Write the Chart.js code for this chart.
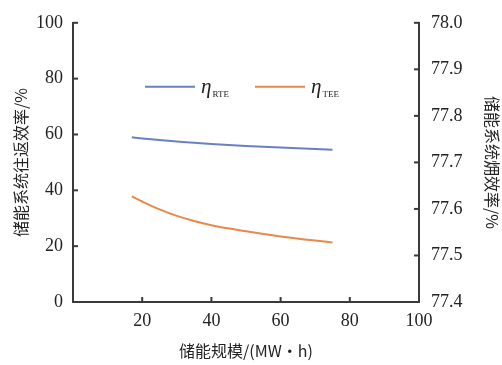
<!DOCTYPE html>
<html><head><meta charset="utf-8">
<script src="https://cdn.jsdelivr.net/npm/chart.js@4"></script>
<style>html,body{margin:0;padding:0;background:#fff}#wrap{width:502px;height:365px}
.probe{font-family:'Liberation Serif';position:absolute;left:-999px}</style>
</head><body><div id="wrap"><canvas id="c" width="502" height="365"></canvas></div>
<span class="probe">0123 η</span>
<script>
const scaleMW = [17, 20, 25, 30, 35, 40, 50, 60, 70, 75];
const etaRTE = [59.0, 58.6, 58.0, 57.5, 57.0, 56.6, 55.9, 55.3, 54.8, 54.5];
const etaTEE = [77.627, 77.616, 77.599, 77.585, 77.574, 77.565, 77.552, 77.541, 77.532, 77.528];
const xTicks = [0, 20, 40, 60, 80, 100];
const yLeftTicks = [0, 20, 40, 60, 80, 100];
const yRightTicks = [77.4, 77.5, 77.6, 77.7, 77.8, 77.9, 78.0];
const seriesNames = [['η', 'RTE'], ['η', 'TEE']];
const colors = ['#6a7fc6', '#e8894b'];

const serif = "'Liberation Serif', 'Times New Roman', serif";
const cjk = "'Noto Sans CJK SC', sans-serif";
const axisColor = '#3a3a3a';

const inwardTicks = {
  id: 'inwardTicks',
  afterDraw(chart) {
    const ctx = chart.ctx, a = chart.chartArea, L = 5;
    ctx.save();
    ctx.strokeStyle = axisColor; ctx.lineWidth = 2;
    const sx = chart.scales.x, sy = chart.scales.y, sy1 = chart.scales.y1;
    xTicks.forEach(v => { const p = sx.getPixelForValue(v); if (v===0||v===100) return; ctx.beginPath(); ctx.moveTo(p, a.bottom); ctx.lineTo(p, a.bottom - L); ctx.stroke(); });
    yLeftTicks.forEach(v => { const p = sy.getPixelForValue(v); if (v===0) return; ctx.beginPath(); ctx.moveTo(a.left, p); ctx.lineTo(a.left + L, p); ctx.stroke(); });
    yRightTicks.forEach(v => { const p = sy1.getPixelForValue(v); if (v===77.4) return; ctx.beginPath(); ctx.moveTo(a.right, p); ctx.lineTo(a.right - L, p); ctx.stroke(); });
    ctx.restore();
  }
};

const customLegend = {
  id: 'customLegend',
  afterDraw(chart) {
    const ctx = chart.ctx, a = chart.chartArea;
    const y = a.top + 64;
    const starts = [a.left + 72, a.left + 182];
    ctx.save();
    chart.data.datasets.forEach((ds, i) => {
      const x0 = starts[i];
      ctx.strokeStyle = ds.borderColor; ctx.lineWidth = 2;
      ctx.beginPath(); ctx.moveTo(x0, y); ctx.lineTo(x0 + 50, y); ctx.stroke();
      ctx.fillStyle = '#222';
      ctx.textBaseline = 'alphabetic'; ctx.textAlign = 'left';
      ctx.font = 'italic 21px ' + serif;
      ctx.fillText(seriesNames[i][0], x0 + 56, y + 6);
      const w = ctx.measureText(seriesNames[i][0]).width;
      ctx.font = '9px ' + serif;
      ctx.fillText(seriesNames[i][1], x0 + 57 + w, y + 10);
    });
    ctx.restore();
  }
};

function build() {
new Chart(document.getElementById('c'), {
  type: 'line',
  data: {
    datasets: [
      { data: scaleMW.map((x, i) => ({x, y: etaRTE[i]})), borderColor: colors[0], borderWidth: 2, pointRadius: 0, cubicInterpolationMode: 'monotone', yAxisID: 'y' },
      { data: scaleMW.map((x, i) => ({x, y: etaTEE[i]})), borderColor: colors[1], borderWidth: 2, pointRadius: 0, cubicInterpolationMode: 'monotone', yAxisID: 'y1' }
    ]
  },
  options: {
    responsive: false, animation: false,
    layout: { padding: { top: 20, left: 0, right: 0, bottom: 0 } },
    plugins: { legend: { display: false }, tooltip: { enabled: false } },
    scales: {
      x: {
        type: 'linear', min: 0, max: 100,
        afterBuildTicks: s => { s.ticks = xTicks.map(v => ({value: v})); },
        ticks: { font: { family: serif, size: 18 }, color: '#222', padding: 8, maxRotation: 0, callback: v => v === 0 ? '' : v },
        grid: { display: false, drawTicks: false },
        border: { display: true, color: axisColor, width: 2 },
        title: { display: true, text: '储能规模/(MW·h)', font: { family: cjk, size: 16 }, color: '#222', padding: { top: 6 } },
        afterFit: s => { s.height = 63; }
      },
      y: {
        position: 'left', min: 0, max: 100,
        afterBuildTicks: s => { s.ticks = yLeftTicks.map(v => ({value: v})); },
        ticks: { font: { family: serif, size: 18 }, color: '#222', padding: 10 },
        grid: { display: false, drawTicks: false },
        border: { display: true, color: axisColor, width: 2 },
        title: { display: true, text: '储能系统往返效率/%', font: { family: cjk, size: 16 }, color: '#222', padding: { top: 11, bottom: 4 } },
        afterFit: s => { s.width = 73; }
      },
      y1: {
        position: 'right', min: 77.4, max: 78.0,
        afterBuildTicks: s => { s.ticks = yRightTicks.map(v => ({value: v})); },
        ticks: { font: { family: serif, size: 18 }, color: '#222', padding: 12, callback: v => v.toFixed(1) },
        grid: { display: false, drawTicks: false },
        border: { display: true, color: axisColor, width: 2 },
        title: { display: true, text: '储能系统㶲效率/%', font: { family: cjk, size: 16 }, color: '#222', padding: { top: 0, bottom: 0 } },
        afterFit: s => { s.width = 83; }
      }
    }
  },
  plugins: [inwardTicks, customLegend]
});
}
if (document.fonts && document.fonts.load) {
  Promise.all([document.fonts.load("18px 'Liberation Serif'"), document.fonts.load("italic 21px 'Liberation Serif'"), document.fonts.load("16px 'Noto Sans CJK SC'")]).then(build, build);
} else build();
</script></body></html>
